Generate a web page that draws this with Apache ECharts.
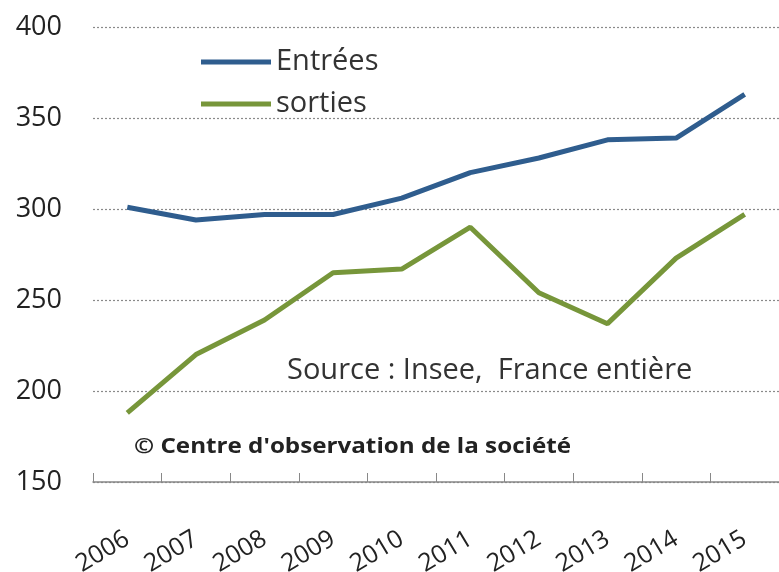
<!DOCTYPE html>
<html><head><meta charset="utf-8">
<script src="https://cdn.jsdelivr.net/npm/echarts@6/dist/echarts.min.js"></script>
<style>html,body{margin:0;padding:0;background:#fff}#c{width:779px;height:572px}</style>
</head><body><div id="c"></div>
<script>
const years = ['2006','2007','2008','2009','2010','2011','2012','2013','2014','2015'];
const entrees = [301, 294, 297, 297, 306, 320, 328, 338, 339, 363];
const sorties = [188, 220, 239, 265, 267, 290, 254, 237, 273, 297];
const yTicks = { min: 150, max: 400, interval: 50 };
const FONT = '"Open Sans", "Noto Sans", sans-serif';
const chart = echarts.init(document.getElementById('c'));
chart.setOption({
  animation: false,
  grid: { left: 93, right: 0, top: 27, bottom: 90, containLabel: false, outerBoundsMode: 'none' },
  legend: {
    left: 196, top: 42, orient: 'vertical', itemGap: 12,
    itemWidth: 70, itemHeight: 5, icon: 'rect',
    textStyle: { fontFamily: FONT, fontSize: 29, lineHeight: 30, color: '#333' },
    data: ['Entrées', 'sorties']
  },
  xAxis: {
    type: 'category', data: years, boundaryGap: true,
    axisLine: { lineStyle: { color: '#888', width: 1.5 } },
    axisTick: { show: true, inside: true, length: 9, lineStyle: { color: '#888' } },
    axisLabel: { rotate: 31, margin: 55, fontFamily: FONT, fontSize: 25, color: '#222' }
  },
  yAxis: {
    type: 'value', min: yTicks.min, max: yTicks.max, interval: yTicks.interval,
    axisLine: { show: false }, axisTick: { show: false },
    axisLabel: { margin: 31, fontFamily: FONT, fontSize: 27, color: '#222' },
    splitLine: { lineStyle: { color: '#8a8a8a', type: [2, 2], width: 1.2 } }
  },
  graphic: [
    { type: 'text', left: 287, top: 356, style: { text: 'Source : Insee,  France entière', font: '29px ' + FONT, fill: '#333' } },
    { type: 'text', x: 134, y: 436, scaleX: 1.1, style: { text: "© Centre d'observation de la société", font: 'bold 22px ' + FONT, fill: '#222' } }
  ],
  series: [
    { name: 'Entrées', type: 'line', data: entrees, symbol: 'none', lineStyle: { color: '#2f5d8e', width: 5 }, itemStyle: { color: '#2f5d8e' } },
    { name: 'sorties', type: 'line', data: sorties, symbol: 'none', lineStyle: { color: '#77963a', width: 5 }, itemStyle: { color: '#77963a' } }
  ]
});
</script></body></html>
